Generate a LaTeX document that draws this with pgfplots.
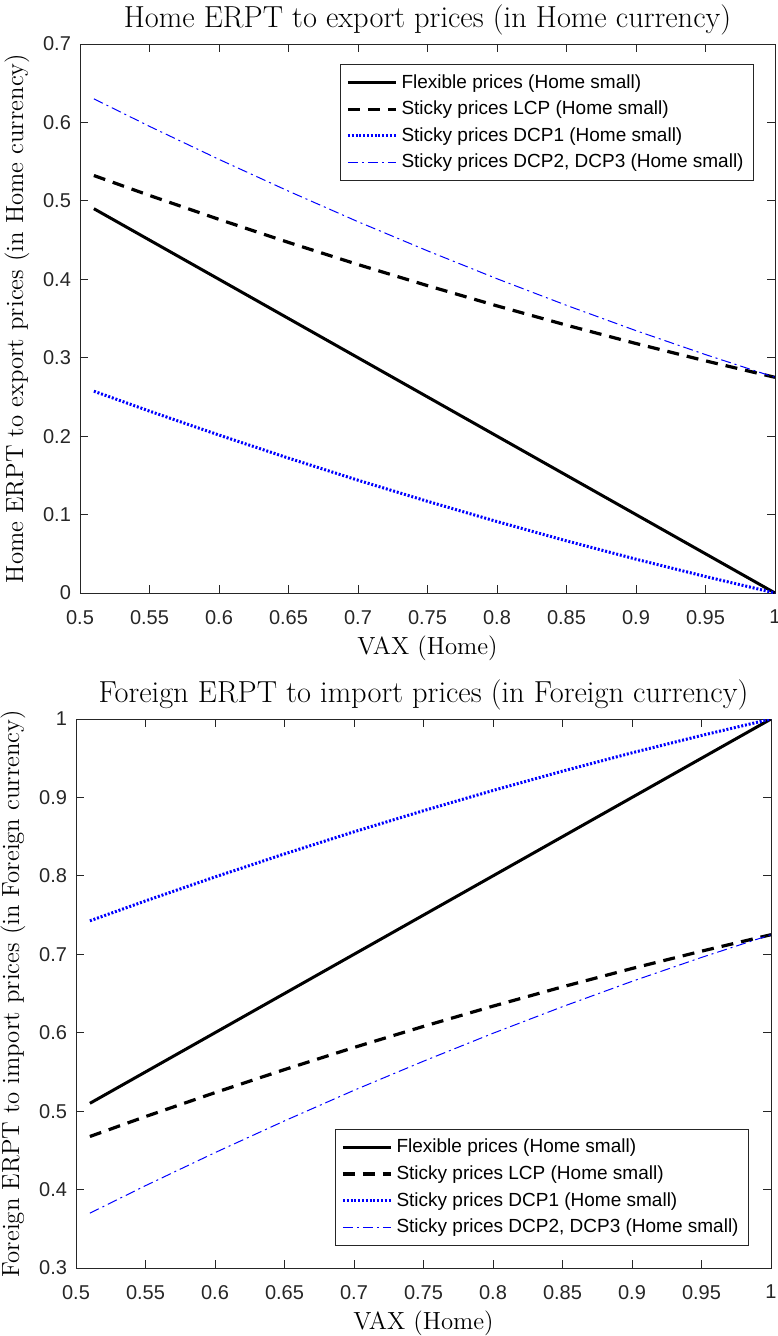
\documentclass[border=0pt]{standalone}
\usepackage{fontspec}
\usepackage{pgfplots}
\usepackage{pgfplotstable}
\pgfplotsset{compat=1.18}
\newfontfamily\arial{Liberation Sans}
\definecolor{axgray}{RGB}{38,38,38}
\definecolor{mblue}{RGB}{0,0,255}

\pgfplotstableread{
x flex lcp dcpa dcpb
0.51 0.4900 0.5323 0.2573 0.6301
0.55 0.4500 0.5069 0.2319 0.5950
0.60 0.4000 0.4764 0.2014 0.5529
0.65 0.3500 0.4470 0.1720 0.5124
0.70 0.3000 0.4188 0.1438 0.4734
0.75 0.2500 0.3919 0.1169 0.4363
0.80 0.2000 0.3661 0.0911 0.4007
0.85 0.1500 0.3415 0.0665 0.3668
0.90 0.1000 0.3181 0.0431 0.3345
0.95 0.0500 0.2960 0.0210 0.3040
1.00 0.0000 0.2750 0.0000 0.2750
}\toptable

\pgfplotstableread{
x flex lcp dcpa dcpb
0.51 0.51 0.4677 0.7427 0.3699
0.55 0.55 0.4931 0.7681 0.4050
0.60 0.60 0.5236 0.7986 0.4471
0.65 0.65 0.5530 0.8280 0.4876
0.70 0.70 0.5812 0.8562 0.5266
0.75 0.75 0.6081 0.8831 0.5637
0.80 0.80 0.6339 0.9089 0.5993
0.85 0.85 0.6585 0.9335 0.6332
0.90 0.90 0.6819 0.9569 0.6655
0.95 0.95 0.7040 0.9790 0.6960
1.00 1.00 0.7250 1.0000 0.7250
}\bottable

\pgfplotsset{
  myax/.style={
    scale only axis,
    width=347.5pt, height=274.5pt,
    xmin=0.5, xmax=1,
    xtick={0.5,0.55,0.6,0.65,0.7,0.75,0.8,0.85,0.9,0.95,1},
    xticklabels={0.5,0.55,0.6,0.65,0.7,0.75,0.8,0.85,0.9,0.95,1},
    axis line style={axgray, line width=0.4pt},
    tick style={axgray, line width=0.4pt},
    major tick length=4pt,
    tick align=inside,
    ticklabel style={font=\arial\fontsize{10}{12}\selectfont, text=axgray},
    xticklabel style={yshift=-5pt},
    yticklabel style={xshift=-1pt},
    /pgf/number format/assume math mode=true,
    title style={font=\fontsize{15.2}{18}\selectfont, yshift=-5pt},
    label style={font=\fontsize{12.4}{15}\selectfont},
    xlabel style={yshift=1pt},
    xlabel={VAX (Home)},
    legend cell align=left,
    legend image code/.code={\draw[##1] (0pt,0pt) -- (24pt,0pt);},
    legend style={font=\arial\fontsize{9.5}{11.4}\selectfont, draw=axgray, line width=0.4pt,
      row sep=0.9pt, inner xsep=3pt, inner ysep=3pt},
  },
  flex/.style={black, line width=1.5pt},
  lcp/.style={black, line width=1.6pt, dash pattern=on 6pt off 4pt},
  dcpa/.style={mblue, line width=1.5pt, dash pattern=on 1pt off 0.9pt},
  dcpb/.style={mblue, line width=0.5pt, dash pattern=on 5pt off 2pt on 1pt off 2pt},
}

\begin{document}
\begin{tikzpicture}
\begin{axis}[myax,
  at={(40pt,-296.5pt)}, anchor=south west,
  ymin=0, ymax=0.7,
  ytick={0,0.1,0.2,0.3,0.4,0.5,0.6,0.7},
  yticklabels={0,0.1,0.2,0.3,0.4,0.5,0.6,0.7},
  title={Home ERPT to export prices (in Home currency)},
  ylabel={Home ERPT to export prices (in Home currency)},
  legend style={at={(1,1)}, anchor=north east, xshift=-10.5pt, yshift=-10pt},
]
\addplot[flex] table[x=x,y=flex] {\toptable};
\addlegendentry{Flexible prices (Home small)}
\addplot[lcp] table[x=x,y=lcp] {\toptable};
\addlegendentry{Sticky prices LCP (Home small)}
\addplot[dcpa] table[x=x,y=dcpa] {\toptable};
\addlegendentry{Sticky prices DCP1 (Home small)}
\addplot[dcpb] table[x=x,y=dcpb] {\toptable};
\addlegendentry{Sticky prices DCP2, DCP3 (Home small)}
\end{axis}

\begin{axis}[myax,
  at={(38pt,-634pt)}, anchor=south west,
  ymin=0.3, ymax=1,
  ytick={0.3,0.4,0.5,0.6,0.7,0.8,0.9,1},
  yticklabels={0.3,0.4,0.5,0.6,0.7,0.8,0.9,1},
  title={Foreign ERPT to import prices (in Foreign currency)},
  ylabel={Foreign ERPT to import prices (in Foreign currency)},
  legend style={at={(1,0)}, anchor=south east, xshift=-11pt, yshift=11pt},
]
\addplot[flex] table[x=x,y=flex] {\bottable};
\addlegendentry{Flexible prices (Home small)}
\addplot[lcp] table[x=x,y=lcp] {\bottable};
\addlegendentry{Sticky prices LCP (Home small)}
\addplot[dcpa] table[x=x,y=dcpa] {\bottable};
\addlegendentry{Sticky prices DCP1 (Home small)}
\addplot[dcpb] table[x=x,y=dcpb] {\bottable};
\addlegendentry{Sticky prices DCP2, DCP3 (Home small)}
\end{axis}

\pgfresetboundingbox
\useasboundingbox (0pt,0pt) rectangle (388.5pt,-668pt);
\end{tikzpicture}
\end{document}
